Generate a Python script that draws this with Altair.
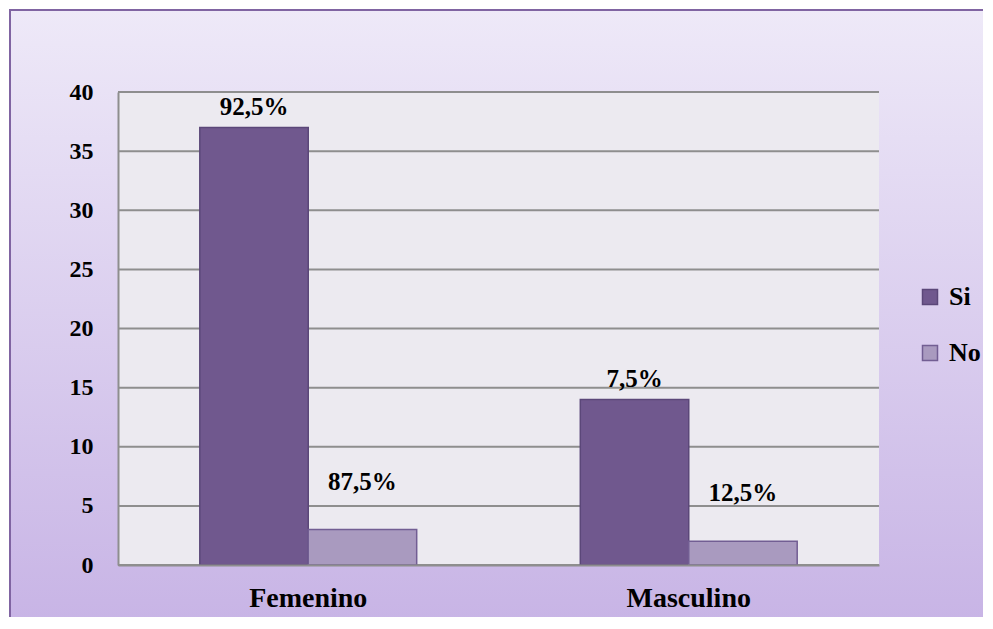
import altair as alt
import pandas as pd

categories = ["Femenino", "Femenino", "Masculino", "Masculino"]
series = ["Si", "No", "Si", "No"]
values = [37, 3, 14, 2]
labels = ["92,5%", "87,5%", "7,5%", "12,5%"]
y_ticks = [0, 5, 10, 15, 20, 25, 30, 35, 40]

df = pd.DataFrame({"sexo": categories, "serie": series, "valor": values, "etiqueta": labels})
grid_df = pd.DataFrame({"valor": y_ticks})

W, H = 761, 473
FONT = "Liberation Serif"
GRID = "#8E8E8E"

yscale = alt.Scale(domain=[0, 40], nice=False)
yaxis = alt.Axis(title=None, values=y_ticks, ticks=False, grid=False, domain=True,
                 domainColor=GRID, domainWidth=2, labelPadding=25, labelFontSize=24,
                 labelFont=FONT, labelFontWeight="bold", labelColor="black", zindex=1)

x_enc = alt.X(
    "sexo:N",
    sort=["Femenino", "Masculino"],
    scale=alt.Scale(paddingInner=0.43, paddingOuter=0.215),
    axis=alt.Axis(title=None, labelAngle=0, ticks=False, domain=True, domainColor=GRID,
                  domainWidth=2, labelFontSize=28, labelPadding=19, labelFont=FONT,
                  labelFontWeight="bold", labelColor="black", zindex=1),
)
y_enc = alt.Y("valor:Q", scale=yscale, axis=yaxis)
xo = alt.XOffset("serie:N", sort=["Si", "No"], scale=alt.Scale(paddingInner=0, paddingOuter=0))

color = alt.Color(
    "serie:N",
    sort=["Si", "No"],
    scale=alt.Scale(domain=["Si", "No"], range=["#70588E", "#A99ABF"]),
    legend=alt.Legend(title=None, orient="none", legendX=799, legendY=192, padding=0,
                      symbolType="square", symbolSize=225, symbolStrokeColor="#634F82",
                      symbolStrokeWidth=1.5, labelFont=FONT, labelFontSize=26,
                      labelFontWeight="bold", labelColor="black", labelOffset=6,
                      rowPadding=30, zindex=1),
)

bg = alt.Chart(alt.Data(values=[{}])).mark_rect(
    fill=alt.LinearGradient(
        gradient="linear",
        stops=[alt.GradientStop(color="#EEE9F8", offset=0),
               alt.GradientStop(color="#C7B3E5", offset=1)],
        x1=0, x2=0, y1=0, y2=1,
    ),
    stroke="#8064A2",
    strokeWidth=2,
).encode(x=alt.value(-108), x2=alt.value(W + 130), y=alt.value(-82), y2=alt.value(H + 70))

plotbg = alt.Chart(alt.Data(values=[{}])).mark_rect(fill="#ECEAF0").encode(
    x=alt.value(0), x2=alt.value(W), y=alt.value(0), y2=alt.value(H)
)

grid = alt.Chart(grid_df).mark_rule(color=GRID, strokeWidth=2).encode(
    y=alt.Y("valor:Q", scale=yscale, axis=yaxis),
    x=alt.value(0),
    x2=alt.value(W),
)

bars = alt.Chart(df).mark_bar(strokeWidth=1.5).encode(
    x=x_enc,
    xOffset=xo,
    y=y_enc,
    color=color,
    stroke=alt.Stroke("serie:N", scale=alt.Scale(domain=["Si", "No"], range=["#5B4779", "#725E93"]), legend=None),
)

def text_layer(serie, dy):
    return alt.Chart(df).transform_filter(alt.datum.serie == serie).mark_text(
        font=FONT, fontSize=25, fontWeight="bold", color="black", baseline="alphabetic", dy=dy
    ).encode(
        x=alt.X("sexo:N", sort=["Femenino", "Masculino"]),
        xOffset=alt.XOffset("serie:N", sort=["Si", "No"]),
        y=alt.Y("valor:Q", scale=yscale),
        text="etiqueta:N",
    )

chart = alt.layer(
    bg, plotbg, grid, bars, text_layer("Si", -12), text_layer("No", -40)
).properties(
    width=W,
    height=H,
    padding={"left": 110, "top": 84, "right": 104, "bottom": 52},
    autosize=alt.AutoSizeParams(type="none"),
    background="white",
).configure_view(stroke=None)

chart.save("out.html", embed_options={"renderer": "svg", "actions": False})
